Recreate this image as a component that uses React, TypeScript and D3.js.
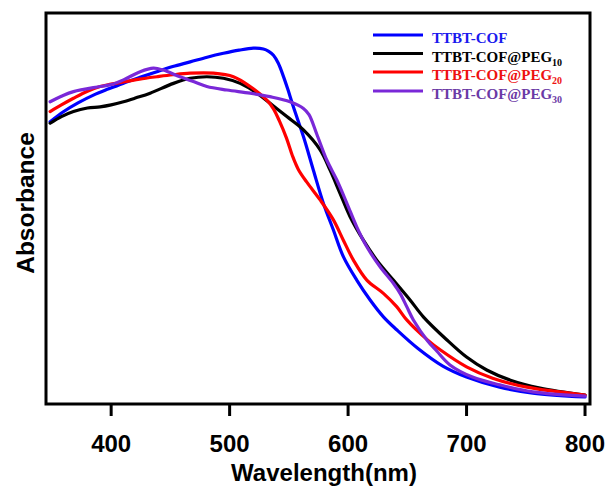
import React from "react";
import * as d3 from "d3";

const WIDTH = 609;
const HEIGHT = 486;

const xTicks = [400, 500, 600, 700, 800];
const xLabel = "Wavelength(nm)";
const yLabel = "Absorbance";

const seriesNames = ["TTBT-COF", "TTBT-COF@PEG", "TTBT-COF@PEG", "TTBT-COF@PEG"];
const seriesSubs = ["", "10", "20", "30"];
const lineColors = ["#0000ff", "#000000", "#ff0000", "#7a28d8"];
const textColors = ["#1a1aee", "#000000", "#ee1111", "#6b3aa6"];

const ttbtCof: [number, number][] = [
  [348.5, 0.722], [360, 0.748], [372, 0.77], [385, 0.79], [398, 0.806], [410, 0.82],
  [425, 0.836], [438.6, 0.85], [452, 0.863], [466.7, 0.875], [481, 0.887], [494.8, 0.897],
  [508, 0.905], [520, 0.91], [528.5, 0.908], [533, 0.902], [537, 0.892], [541, 0.872],
  [545.4, 0.838], [549, 0.806], [553.8, 0.76], [562.3, 0.684], [570.7, 0.598],
  [579.2, 0.513], [587.6, 0.445], [596, 0.377], [607.3, 0.317], [618.6, 0.266],
  [629.8, 0.223], [641, 0.19], [659, 0.142], [680, 0.097], [700, 0.069], [728, 0.043],
  [756, 0.028], [800, 0.018],
];

const peg10: [number, number][] = [
  [348.5, 0.718], [358, 0.735], [368.2, 0.748], [380, 0.757], [390.7, 0.76], [400, 0.765],
  [410.4, 0.773], [421, 0.783], [432.9, 0.795], [452.6, 0.82], [466.7, 0.833], [480.8, 0.837],
  [494.8, 0.833], [508.9, 0.82], [523, 0.795], [537, 0.762], [548.3, 0.735], [562.3, 0.701],
  [576.4, 0.65], [584.8, 0.598], [593.2, 0.539], [601.7, 0.479], [612.9, 0.419],
  [624.2, 0.368], [638.2, 0.317], [652.3, 0.266], [663.5, 0.223], [683, 0.165],
  [700, 0.12], [717, 0.087], [737, 0.061], [762, 0.041], [800, 0.023],
];

const peg20: [number, number][] = [
  [348.5, 0.748], [358, 0.765], [368.2, 0.782], [380, 0.8], [390.7, 0.812], [400, 0.818],
  [410.4, 0.824], [424, 0.831], [438.6, 0.837], [452, 0.842], [466.7, 0.846], [486.3, 0.846],
  [503.2, 0.837], [517.3, 0.812], [531.4, 0.777], [537, 0.755], [542, 0.724], [548, 0.68],
  [553, 0.635], [558, 0.6], [565, 0.568], [576.4, 0.522], [587.6, 0.471], [596, 0.419],
  [604.5, 0.368], [615.8, 0.317], [629.8, 0.283], [641, 0.249], [649.5, 0.215], [667, 0.164],
  [678, 0.138], [700, 0.095], [722, 0.066], [751, 0.043], [800, 0.023],
];

const peg30: [number, number][] = [
  [348.5, 0.773], [358, 0.787], [368.2, 0.799], [390.7, 0.812], [400, 0.817], [410.4, 0.829],
  [424.5, 0.85], [435.7, 0.859], [444, 0.854], [458, 0.837], [470, 0.824], [480.8, 0.812],
  [497.7, 0.803], [517.3, 0.795], [534, 0.786], [551, 0.773], [562.3, 0.756], [567, 0.74],
  [573.6, 0.69], [582, 0.624], [590.5, 0.573], [598.9, 0.514], [607.3, 0.453],
  [615.8, 0.402], [627, 0.351], [638.2, 0.309], [643.9, 0.283], [649.5, 0.249],
  [655.1, 0.215], [667, 0.162], [675, 0.135], [686, 0.1], [705, 0.069], [728, 0.049],
  [756, 0.031], [800, 0.02],
];

const allSeries = [ttbtCof, peg10, peg20, peg30];

export default function App() {
  const left = 46, right = 590, top = 13, bottom = 404;
  const x = d3.scaleLinear().domain([345, 804.2]).range([left, right]);
  const y = d3.scaleLinear().domain([0, 1]).range([bottom, top]);
  const line = d3
    .line<[number, number]>()
    .x((d) => x(d[0]))
    .y((d) => y(d[1]))
    .curve(d3.curveCatmullRom.alpha(0.5));

  const sans = "Arial, 'Liberation Sans', Helvetica, sans-serif";
  const serif = "'Times New Roman', 'Liberation Serif', serif";
  const legendY = [35, 53.5, 72, 91];

  return (
    <svg
      width={WIDTH}
      height={HEIGHT}
      style={{ position: "absolute", left: 0, top: 0, background: "#fff" }}
    >
      <rect x={0} y={0} width={WIDTH} height={HEIGHT} fill="#fff" />
      <defs>
        <clipPath id="plotclip">
          <rect x={left} y={top} width={right - left} height={bottom - top} />
        </clipPath>
      </defs>
      <g clipPath="url(#plotclip)">
        {allSeries.map((s, i) => (
          <path
            key={i}
            d={line(s) || ""}
            fill="none"
            stroke={lineColors[i]}
            strokeWidth={3.2}
            strokeLinejoin="round"
            strokeLinecap="round"
          />
        ))}
      </g>
      <rect
        x={left}
        y={top}
        width={right - left}
        height={bottom - top}
        fill="none"
        stroke="#000"
        strokeWidth={3}
      />
      {xTicks.map((t) => (
        <g key={t}>
          <line x1={x(t)} x2={x(t)} y1={bottom} y2={bottom + 12} stroke="#000" strokeWidth={3} />
          <text
            x={x(t)}
            y={452}
            textAnchor="middle"
            fontFamily={sans}
            fontWeight="bold"
            fontSize={24}
            fill="#000"
          >
            {t}
          </text>
        </g>
      ))}
      <text
        x={324}
        y={481}
        textAnchor="middle"
        fontFamily={sans}
        fontWeight="bold"
        fontSize={24}
        fill="#000"
      >
        {xLabel}
      </text>
      <text
        transform={`translate(33.5,203) rotate(-90)`}
        textAnchor="middle"
        fontFamily={sans}
        fontWeight="bold"
        fontSize={24.5}
        fill="#000"
      >
        {yLabel}
      </text>
      {seriesNames.map((name, i) => (
        <g key={i}>
          <line
            x1={373}
            x2={423}
            y1={legendY[i]}
            y2={legendY[i]}
            stroke={lineColors[i]}
            strokeWidth={3}
          />
          <text
            x={432}
            y={legendY[i] + 8}
            fontFamily={serif}
            fontWeight="bold"
            fontSize={15}
            fill={textColors[i]}
          >
            {name}
            {seriesSubs[i] && (
              <tspan dy={4} fontSize={10}>
                {seriesSubs[i]}
              </tspan>
            )}
          </text>
        </g>
      ))}
    </svg>
  );
}
